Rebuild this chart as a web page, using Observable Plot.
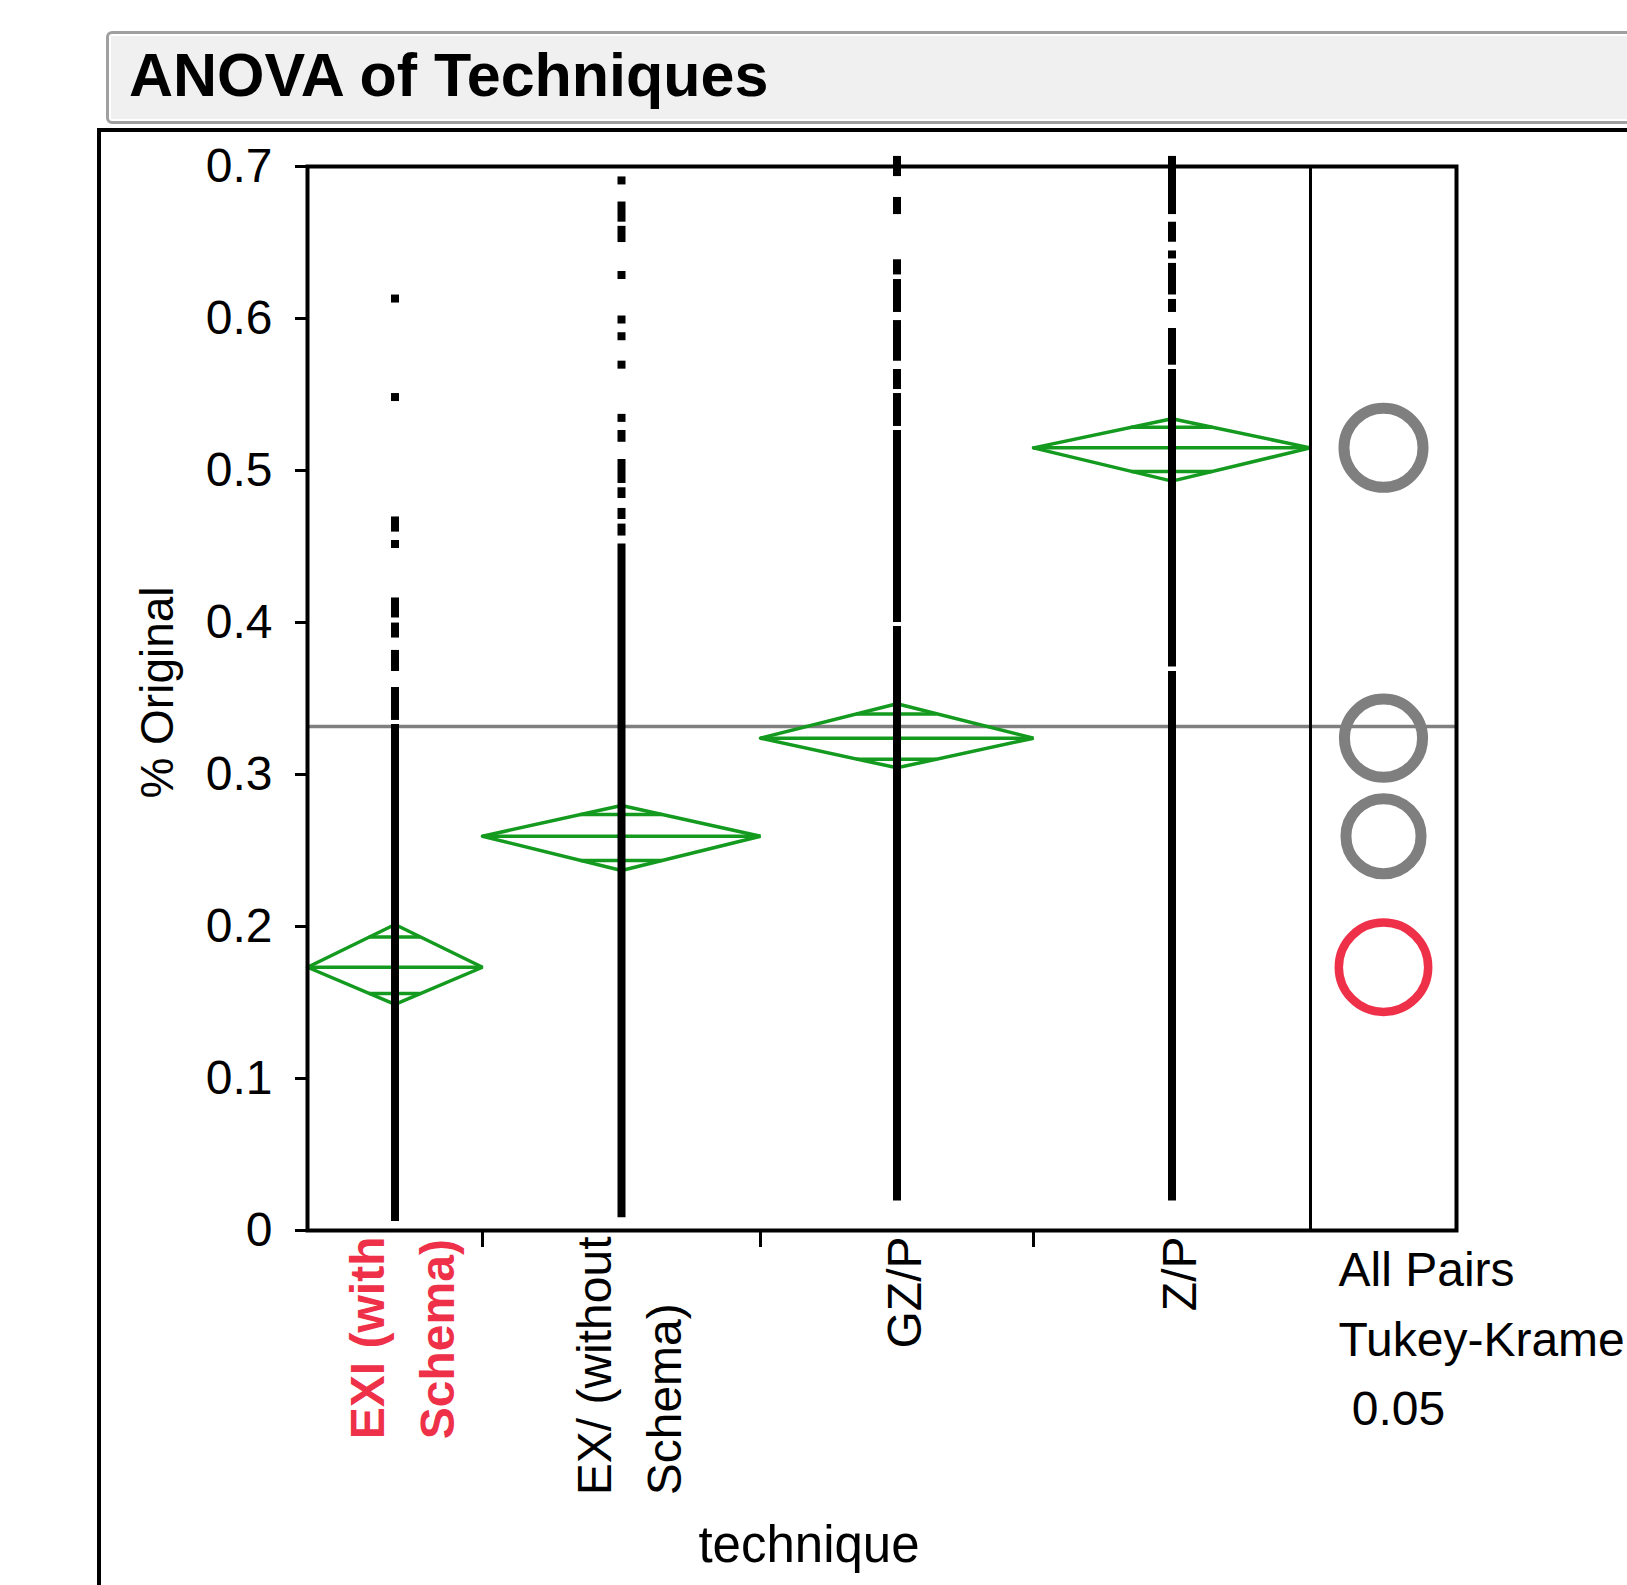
<!DOCTYPE html>
<html>
<head>
<meta charset="utf-8">
<script src="https://cdn.jsdelivr.net/npm/d3@7"></script>
<script src="https://cdn.jsdelivr.net/npm/@observablehq/plot@0.6"></script>
<style>
  html, body { margin: 0; padding: 0; background: #fff; }
  body { width: 1627px; height: 1585px; position: relative; overflow: hidden; font-family: "Liberation Sans", Arial, sans-serif; }
  #titlebar { position: absolute; left: 106px; top: 31px; width: 1600px; height: 87px; border: 3px solid #a0a0a0; border-radius: 6px; background: #f0f0f0; box-shadow: inset 0 0 0 2px #fff; }
  #titletext { position: absolute; left: 20px; top: 11px; font: bold 61px "Liberation Sans", Arial, sans-serif; line-height: 61px; color: #000; white-space: nowrap; }
  #frame { position: absolute; left: 97px; top: 128px; width: 1700px; height: 1600px; border-left: 4px solid #000; border-top: 4px solid #000; }
  #chart { position: absolute; left: 0; top: 132px; }
</style>
</head>
<body>
<div id="titlebar"><div id="titletext">ANOVA of Techniques</div></div>
<div id="frame"></div>
<div id="chart"></div>
<script>
// ---------------- data ----------------
const techniques = ["EXI (with Schema)", "EX/ (without Schema)", "GZ/P", "Z/P"];
const tickLabels = ["EXI (with\nSchema)", "EX/ (without\nSchema)", "GZ/P", "Z/P"];
const sampleSize = [175, 278, 273, 277];           // relative group sizes (column widths)
const means      = [0.1732, 0.2594, 0.3239, 0.5149];
const ciLower    = [0.1487, 0.2368, 0.3044, 0.4930];
const ciUpper    = [0.2013, 0.2796, 0.3465, 0.5340];
const circleRadius = [0.0294, 0.0247, 0.0257, 0.0260];
const selectedTechnique = "EXI (with Schema)";
const grandMean = 0.3316;
const yTicks = [0, 0.1, 0.2, 0.3, 0.4, 0.5, 0.6, 0.7];
const yTitle = "% Original";
const xTitle = "technique";
const comparisonTitle = "All Pairs\nTukey-Kramer\n\u00a00.05";

// observed values: runs of (nearly) contiguous points [low, high]
const pointsEXIwith = [[0.6128, 0.6128], [0.548, 0.548], [0.4621, 0.4668], [0.4513, 0.4513],
  [0.4056, 0.4135], [0.3924, 0.397], [0.3704, 0.379], [0.3382, 0.3546], [0.0086, 0.3303]];
const pointsEXIwithout = [[0.6905, 0.6905], [0.666, 0.674], [0.6526, 0.658], [0.6283, 0.6283],
  [0.599, 0.599], [0.588, 0.588], [0.5693, 0.5693], [0.5343, 0.5343], [0.5212, 0.5237],
  [0.4941, 0.5046], [0.4842, 0.486], [0.4704, 0.4724], [0.4595, 0.4621], [0.011, 0.449]];
const pointsGZIP = [[0.696, 0.704], [0.671, 0.677], [0.6313, 0.636], [0.6066, 0.623],
  [0.5745, 0.596], [0.5559, 0.5638], [0.5316, 0.548], [0.4026, 0.5237], [0.022, 0.3947]];
const pointsZIP = [[0.671, 0.704], [0.6528, 0.6607], [0.6418, 0.6418], [0.6181, 0.6336],
  [0.6066, 0.6099], [0.5719, 0.5908], [0.3734, 0.5638], [0.022, 0.3651]];
const pointRuns = [pointsEXIwith, pointsEXIwithout, pointsGZIP, pointsZIP];

// ---------------- layout ----------------
const W = 1627, H = 1453;
const mTop = 34, mBottom = 355, mLeft = 307, mRight = 171;
const panelExtent = 146;  // width of the comparison-circle panel, in x units
const green = "#139a1f", red = "#ee3048", gray = "#7f7f7f";

let acc = 0;
const groups = techniques.map((t, i) => {
  const x0 = acc; acc += sampleSize[i];
  return { t, x0, x1: acc, xc: (x0 + acc) / 2, mean: means[i], lo: ciLower[i], hi: ciUpper[i],
           r: circleRadius[i], label: tickLabels[i], sel: t === selectedTechnique };
});
const total = acc;
const boundaries = groups.slice(0, -1).map(g => g.x1);

const diamondPts = groups.flatMap(g =>
  [[g.x0, g.mean], [g.xc, g.hi], [g.x1, g.mean], [g.xc, g.lo], [g.x0, g.mean]]
    .map(([x, y]) => ({ t: g.t, x, y })));
const overlapMarks = groups.flatMap(g => {
  const hw = (g.x1 - g.x0) / 2 * (1 - 1 / Math.SQRT2);
  return [g.mean + (g.hi - g.mean) / Math.SQRT2, g.mean - (g.mean - g.lo) / Math.SQRT2]
    .map(y => ({ y, x1: g.xc - hw, x2: g.xc + hw }));
});
const runs = groups.flatMap((g, i) => pointRuns[i].map(([a, b]) => ({ x: g.xc, lo: a, hi: b })));
const circleX = total + panelExtent / 2;

const chart = Plot.plot({
  width: W, height: H,
  marginTop: mTop, marginBottom: mBottom, marginLeft: mLeft, marginRight: mRight,
  style: { fontFamily: '"Liberation Sans", Arial, sans-serif', fontSize: "48px", color: "#000", background: "transparent", overflow: "visible" },
  x: { domain: [0, total + panelExtent], axis: null },
  y: { domain: [0, 0.7], axis: null },
  r: { type: "linear", domain: [0, 0.7], range: [0, H - mTop - mBottom] },
  marks: [
    Plot.ruleY([grandMean], { stroke: gray, strokeWidth: 3.5 }),
    Plot.line(diamondPts, { x: "x", y: "y", z: "t", stroke: green, strokeWidth: 3.5, strokeLinejoin: "miter" }),
    Plot.ruleY(groups, { y: "mean", x1: "x0", x2: "x1", stroke: green, strokeWidth: 3.5 }),
    Plot.ruleY(overlapMarks, { y: "y", x1: "x1", x2: "x2", stroke: green, strokeWidth: 3.5 }),
    Plot.ruleX(runs, { x: "x", y1: "hi", y2: "lo", stroke: "#000", strokeWidth: 8, insetTop: -4, insetBottom: -4, strokeLinecap: "butt" }),
    Plot.dot(groups.filter(g => !g.sel), { x: () => circleX, y: "mean", r: "r", stroke: gray, strokeWidth: 11, fill: "none" }),
    Plot.dot(groups.filter(g => g.sel), { x: () => circleX, y: "mean", r: "r", stroke: red, strokeWidth: 8.5, fill: "none" }),
    Plot.ruleX([total], { stroke: "#000", strokeWidth: 3 }),
    Plot.frame({ stroke: "#000", strokeWidth: 4 }),
    Plot.axisY(yTicks, { tickSize: 12, tickPadding: 23, strokeWidth: 3, fontSize: 48, label: null,
      tickFormat: d => d === 0 ? "0" : d.toFixed(1) }),
    Plot.axisX(boundaries, { tickSize: 17, strokeWidth: 3, label: null, tickFormat: () => "" }),
    Plot.text(groups.filter(g => !g.sel), { x: "xc", text: "label", frameAnchor: "bottom", rotate: -90,
      textAnchor: "end", lineAnchor: "middle", lineHeight: 1.45, dx: 2, dy: 6, fontSize: 48, fill: "#000" }),
    Plot.text(groups.filter(g => g.sel), { x: "xc", text: "label", frameAnchor: "bottom", rotate: -90,
      textAnchor: "end", lineAnchor: "middle", lineHeight: 1.45, dx: 2, dy: 6, fontSize: 48, fill: red, fontWeight: "bold" }),
    Plot.text([xTitle], { x: () => total / 2, text: d => d, frameAnchor: "bottom", lineAnchor: "bottom", dy: 331, fontSize: 51 }),
    Plot.text([yTitle], { text: d => d, frameAnchor: "left", textAnchor: "middle", rotate: -90, lineAnchor: "middle", dx: -149, dy: -6, fontSize: 46 }),
    Plot.text([comparisonTitle], { x: () => total, text: d => d, frameAnchor: "bottom", textAnchor: "start",
      lineAnchor: "top", lineHeight: 1.45, dx: 28, dy: 6, fontSize: 48 })
  ]
});
document.getElementById("chart").append(chart);

// left-align the lines of the two-line rotated category labels, block ending at the axis
const firstLines = new Set(tickLabels.filter(s => s.includes("\n")).map(s => s.split("\n")[0]));
chart.querySelectorAll("text").forEach(t => {
  const ts = t.querySelectorAll("tspan");
  if (ts.length > 1 && firstLines.has(ts[0].textContent)) {
    const max = Math.max(...Array.from(ts, s => s.getComputedTextLength()));
    t.setAttribute("text-anchor", "start");
    ts.forEach(s => s.setAttribute("x", -max));
  }
});
</script>
</body>
</html>
